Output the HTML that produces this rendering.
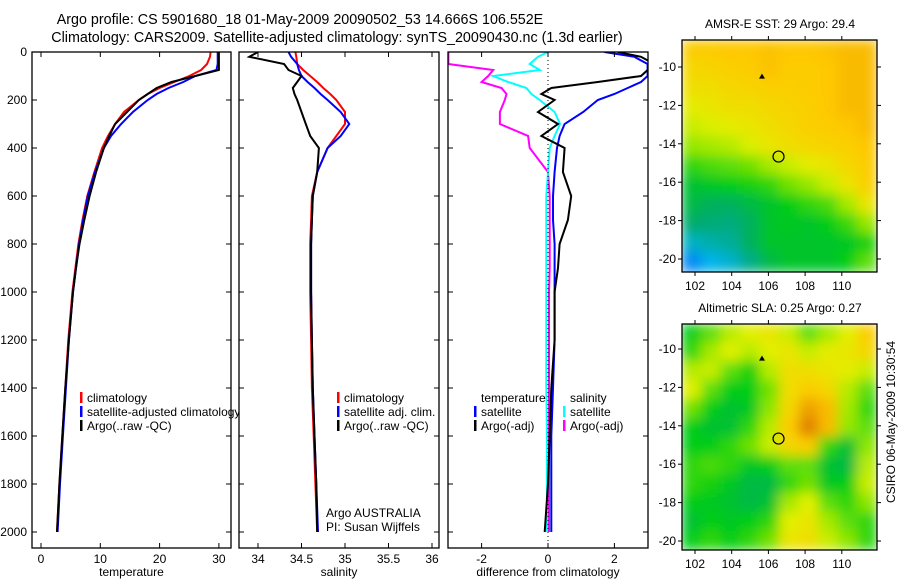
<!DOCTYPE html>
<html><head><meta charset="utf-8"><style>
html,body{margin:0;padding:0;background:#fff;width:900px;height:580px;overflow:hidden}
svg text{font-family:"Liberation Sans",sans-serif;font-size:12px;fill:#000}
svg text.title{font-size:14.3px}
</style></head><body>
<svg id="chart" width="900" height="580" viewBox="0 0 900 580" xmlns="http://www.w3.org/2000/svg">
<defs>
<filter id="blur1" x="0" y="0" width="1" height="1"><feGaussianBlur stdDeviation="6" edgeMode="duplicate"/></filter>
<clipPath id="cp1"><rect x="32" y="52" width="199" height="496"/></clipPath>
<clipPath id="cp2"><rect x="239" y="52" width="200" height="496"/></clipPath>
<clipPath id="cp3"><rect x="448" y="52" width="200" height="496"/></clipPath>
<clipPath id="cpm1"><rect x="682" y="40" width="195" height="232"/></clipPath>
<clipPath id="cpm2"><rect x="682" y="324" width="195" height="226"/></clipPath>
</defs>
<text class="title" x="300" y="24" text-anchor="middle">Argo profile: CS 5901680_18 01-May-2009 20090502_53 14.666S 106.552E</text>
<text class="title" x="337" y="42" text-anchor="middle">Climatology: CARS2009. Satellite-adjusted climatology: synTS_20090430.nc (1.3d earlier)</text>
<g id="g"></g>
<text transform="translate(895,503) rotate(-90)">CSIRO 06-May-2009 10:30:54</text>
</svg>
<script>
// ---- data ----
const depths = [0,20,50,75,100,125,150,175,200,250,300,350,400,500,600,700,800,900,1000,1200,1400,1600,1800,2000];
const tempClim = [28.6,28.5,28,27,25,22.5,20,18,16.5,14,12.5,11.3,10.3,9,7.8,7,6.3,5.8,5.3,4.6,4.1,3.6,3.1,2.7];
const tempSat  = [29.8,29.8,29.8,29.6,26,24,21.5,19.5,18,15.5,13.5,11.8,10.6,9.1,7.9,7.1,6.4,5.9,5.4,4.7,4.2,3.7,3.2,2.8];
const tempArgo = [30,30,30,30,26,22,19.5,18,16.5,14.5,12.5,11.5,10.6,9.3,8.2,7.3,6.5,5.9,5.4,4.7,4.1,3.6,3.1,2.7];
const salClim  = [34.43,34.44,34.45,34.52,34.6,34.68,34.75,34.83,34.9,35.0,35.0,34.9,34.8,34.68,34.62,34.61,34.6,34.6,34.6,34.61,34.62,34.64,34.66,34.68];
const salSat   = [34.35,34.38,34.45,34.47,34.5,34.57,34.65,34.72,34.8,34.95,35.05,34.95,34.8,34.68,34.63,34.62,34.61,34.61,34.61,34.62,34.63,34.65,34.67,34.69];
const salArgo  = [34.0,33.9,34.3,34.35,34.5,34.45,34.4,34.42,34.45,34.5,34.55,34.6,34.7,34.68,34.63,34.62,34.61,34.61,34.61,34.62,34.63,34.65,34.67,34.68];
const dTempSat  = [1.7,2.6,3.0,3.0,3.0,2.8,2.4,2.0,1.5,1.06,0.5,0.35,0.27,0.2,0.15,0.15,0.2,0.2,0.2,0.2,0.15,0.1,0.1,0.1];
const dTempArgo = [2.1,2.8,3.2,3.0,2.8,1.5,0.1,-0.2,0.2,-0.3,0.3,-0.2,0.5,0.45,0.7,0.6,0.35,0.3,0.2,0.2,0.1,0.05,0,-0.1];
const dSalSat   = [0,-0.3,-0.55,-0.25,-1.65,-1.2,-0.65,-0.5,-0.25,0.2,0.36,0.2,0.05,0,-0.05,-0.05,-0.05,-0.05,-0.05,-0.05,-0.05,-0.03,-0.03,-0.03];
const dSalArgo  = [-3,-3,-3,-1.65,-1.8,-2,-1.4,-1.25,-1.3,-1.45,-1.45,-0.6,-0.55,0,0.05,0.05,0.05,0.05,0.03,0.03,0.03,0.03,0.03,0.03];
const depthTicks = [0,200,400,600,800,1000,1200,1400,1600,1800,2000];
const tempTicks = [0,10,20,30];
const salTicks = [34,34.5,35,35.5,36];
const diffTicks = [-2,0,2];
const lonTicks = [102,104,106,108,110];
const latTicks = [-10,-12,-14,-16,-18,-20];
const sstGrid = [
[0.85,0.85,0.86,0.86,0.87,0.86,0.86,0.87,0.88,0.88],
[0.82,0.83,0.84,0.85,0.87,0.85,0.85,0.86,0.88,0.88],
[0.8,0.8,0.82,0.83,0.84,0.84,0.85,0.86,0.88,0.88],
[0.76,0.78,0.8,0.8,0.82,0.83,0.84,0.86,0.88,0.88],
[0.72,0.74,0.76,0.78,0.8,0.82,0.84,0.85,0.86,0.88],
[0.66,0.68,0.7,0.74,0.78,0.8,0.82,0.83,0.84,0.86],
[0.55,0.58,0.6,0.62,0.68,0.72,0.76,0.78,0.82,0.85],
[0.45,0.48,0.5,0.52,0.55,0.62,0.66,0.72,0.78,0.84],
[0.42,0.38,0.38,0.42,0.46,0.5,0.55,0.58,0.68,0.78],
[0.36,0.34,0.33,0.38,0.46,0.48,0.46,0.5,0.56,0.66],
[0.25,0.28,0.3,0.38,0.46,0.46,0.46,0.46,0.48,0.52],
[0.1,0.2,0.24,0.32,0.42,0.46,0.46,0.46,0.5,0.6]];
const slaGrid = [
[0.5,0.6,0.7,0.75,0.78,0.72,0.6,0.68,0.75,0.85],
[0.55,0.68,0.75,0.7,0.75,0.78,0.72,0.76,0.78,0.82],
[0.7,0.72,0.6,0.52,0.7,0.8,0.8,0.78,0.76,0.72],
[0.75,0.6,0.5,0.5,0.62,0.8,0.85,0.82,0.7,0.6],
[0.62,0.5,0.45,0.48,0.65,0.82,0.92,0.88,0.68,0.55],
[0.5,0.45,0.45,0.55,0.7,0.85,0.97,0.88,0.66,0.6],
[0.5,0.5,0.55,0.62,0.72,0.82,0.85,0.55,0.45,0.65],
[0.55,0.58,0.55,0.48,0.5,0.6,0.6,0.45,0.42,0.7],
[0.55,0.52,0.48,0.42,0.42,0.55,0.62,0.48,0.5,0.72],
[0.5,0.48,0.45,0.42,0.45,0.68,0.75,0.6,0.55,0.65],
[0.45,0.5,0.48,0.5,0.55,0.75,0.78,0.68,0.6,0.55],
[0.5,0.55,0.5,0.55,0.62,0.78,0.8,0.72,0.65,0.55]];
const floatLon = 106.552, floatLat = -14.666;
const prevLon = 105.65, prevLat = -10.5;

const NS="http://www.w3.org/2000/svg";
const G=document.getElementById('g');
function el(t,a,p){const e=document.createElementNS(NS,t);for(const k in a)e.setAttribute(k,a[k]);(p||G).appendChild(e);return e;}
function txt(x,y,s,anchor,p){const t=el('text',{x:x,y:y,'text-anchor':anchor||'start'},p);t.textContent=s;return t;}
const yD = d => 52 + d*0.24;

function panel(name,x0,x1,xs,ticks,tickFmt,xlabel,clip,yLabels,series){
  const grp=el('g',{});
  
  
  el('rect',{x:x0,y:52,width:x1-x0,height:496,fill:'#fff',stroke:'none'},grp);
  const lines=el('g',{'clip-path':'url(#'+clip+')'},grp);
  series.forEach(s=>{
    const pts=s.v.map((v,i)=>xs(v).toFixed(1)+','+yD(depths[i]).toFixed(1)).join(' ');
    const pl=el('polyline',{points:pts,fill:'none',stroke:s.c,'stroke-width':s.w||2,'stroke-linejoin':'miter'},lines);
    
    
  });
  el('rect',{x:x0,y:52,width:x1-x0,height:496,fill:'none',stroke:'#000','stroke-width':1.3},grp);
  ticks.forEach(t=>{const x=xs(t);
    el('line',{x1:x,x2:x,y1:548,y2:543,stroke:'#000'},grp);
    el('line',{x1:x,x2:x,y1:52,y2:57,stroke:'#000'},grp);
    const tl=txt(x,563,tickFmt(t),'middle',grp);
    
    
  });
  depthTicks.forEach(d=>{const y=yD(d);
    el('line',{x1:x0,x2:x0+5,y1:y,y2:y,stroke:'#000'},grp);
    el('line',{x1:x1,x2:x1-5,y1:y,y2:y,stroke:'#000'},grp);
    if(yLabels){const tl=txt(x0-5,y+4,String(d),'end',grp);
      
      }
  });
  const xl=txt((x0+x1)/2,576,xlabel,'middle',grp);
  
  
  return grp;
}
function legend(x,y,color,label,p){
  const g=el('g',{},p);
  
  
  if(color) el('rect',{x:x,y:y-10,width:2.5,height:11,fill:color},g);
  txt(x+7,y,label,'start',g);
}

const xT=v=>41+v*5.93, xS=v=>258+(v-34)*87, xDf=v=>548+v*33.2;
const p1=panel('temperature-panel',32,231,xT,tempTicks,String,'temperature','cp1',true,[
 {v:tempClim,c:'#f00',n:'temp-climatology-line'},{v:tempSat,c:'#00f',n:'temp-satellite-line'},{v:tempArgo,c:'#000',n:'temp-argo-line'}]);
legend(80,402,'#f00','climatology',p1);legend(80,416,'#00f','satellite-adjusted climatology',p1);legend(80,430,'#000','Argo(..raw -QC)',p1);
const p2=panel('salinity-panel',239,439,xS,salTicks,String,'salinity','cp2',false,[
 {v:salClim,c:'#f00',n:'sal-climatology-line'},{v:salSat,c:'#00f',n:'sal-satellite-line'},{v:salArgo,c:'#000',n:'sal-argo-line'}]);
legend(337,402,'#f00','climatology',p2);legend(337,416,'#00f','satellite adj. clim.',p2);legend(337,430,'#000','Argo(..raw -QC)',p2);
txt(326,517,'Argo AUSTRALIA','start',p2);txt(326,531,'PI: Susan Wijffels','start',p2);
const p3=panel('difference-panel',448,648,xDf,diffTicks,String,'difference from climatology','cp3',false,[
 {v:dSalArgo,c:'#f0f',n:'sal-argo-diff-line'},{v:dSalSat,c:'#0ff',n:'sal-satellite-diff-line'},{v:dTempSat,c:'#00f',n:'temp-satellite-diff-line'},{v:dTempArgo,c:'#000',n:'temp-argo-diff-line'}]);
el('line',{x1:xDf(0),x2:xDf(0),y1:52,y2:548,stroke:'#000','stroke-dasharray':'1,3'},p3);
legend(474,402,null,'temperature',p3);legend(474,416,'#00f','satellite',p3);legend(474,430,'#000','Argo(-adj)',p3);
legend(563,402,null,'salinity',p3);legend(563,416,'#0ff','satellite',p3);legend(563,430,'#f0f','Argo(-adj)',p3);

// ---- maps ----
const cmap=[[0,[0,90,255]],[0.2,[0,180,235]],[0.35,[0,170,110]],[0.5,[0,205,20]],[0.65,[140,230,0]],[0.75,[225,240,0]],[0.86,[255,200,0]],[1,[215,110,0]]];
function col(v){for(let i=1;i<cmap.length;i++){if(v<=cmap[i][0]){const a=cmap[i-1],b=cmap[i],f=(v-a[0])/(b[0]-a[0]);
 return 'rgb('+a[1].map((c,k)=>Math.round(c+(b[1][k]-c)*f)).join(',')+')';}}return 'rgb(215,110,0)';}
function map(name,top,h,lat10y,grid,title,clip){
  const x0=682,x1=877,y1=top+h;
  const lonX=l=>695+(l-102)*18.35, latY=l=>lat10y+(-10-l)*19.2;
  const grp=el('g',{});
  
  
  const t=txt(780,top-12,title,'middle',grp);
  
  
  const cg=el('g',{'clip-path':'url(#'+clip+')'},grp);
  const inner=el('g',{filter:'url(#blur1)'},cg);
  const nr=grid.length,nc=grid[0].length,cw=(x1-x0)/nc,ch=h/nr;
  grid.forEach((row,r)=>row.forEach((v,c)=>{
    const cell=el('rect',{x:x0+c*cw-0.5,y:top+r*ch-0.5,width:cw+1,height:ch+1,fill:col(v)},inner);
    
    
  }));
  el('rect',{x:x0,y:top,width:x1-x0,height:h,fill:'none',stroke:'#000','stroke-width':1.3},grp);
  lonTicks.forEach(l=>{const x=lonX(l);el('line',{x1:x,x2:x,y1:y1,y2:y1+4,stroke:'#000'},grp);el('line',{x1:x,x2:x,y1:top,y2:top-4,stroke:'#000'},grp);txt(x,y1+18,String(l),'middle',grp);});
  latTicks.forEach(l=>{const y=latY(l);el('line',{x1:x1,x2:x1+4,y1:y,y2:y,stroke:'#000'},grp);el('line',{x1:x0,x2:x0-4,y1:y,y2:y,stroke:'#000'},grp);txt(x0-6,y+4,String(l),'end',grp);});
  const c=el('circle',{cx:lonX(floatLon),cy:latY(floatLat),r:5.5,fill:'none',stroke:'#000','stroke-width':1.2},grp);
  
  
  const px=lonX(prevLon),py=latY(prevLat);
  const pm=el('polygon',{points:(px-3)+','+(py+2)+' '+px+','+(py-3)+' '+(px+3)+','+(py+2),fill:'#000'},grp);
  
  
}
map('sst-map',40,232,67,sstGrid,'AMSR-E SST: 29 Argo: 29.4','cpm1');
map('sla-map',324,226,349,slaGrid,'Altimetric SLA: 0.25 Argo: 0.27','cpm2');
</script>
</body></html>
